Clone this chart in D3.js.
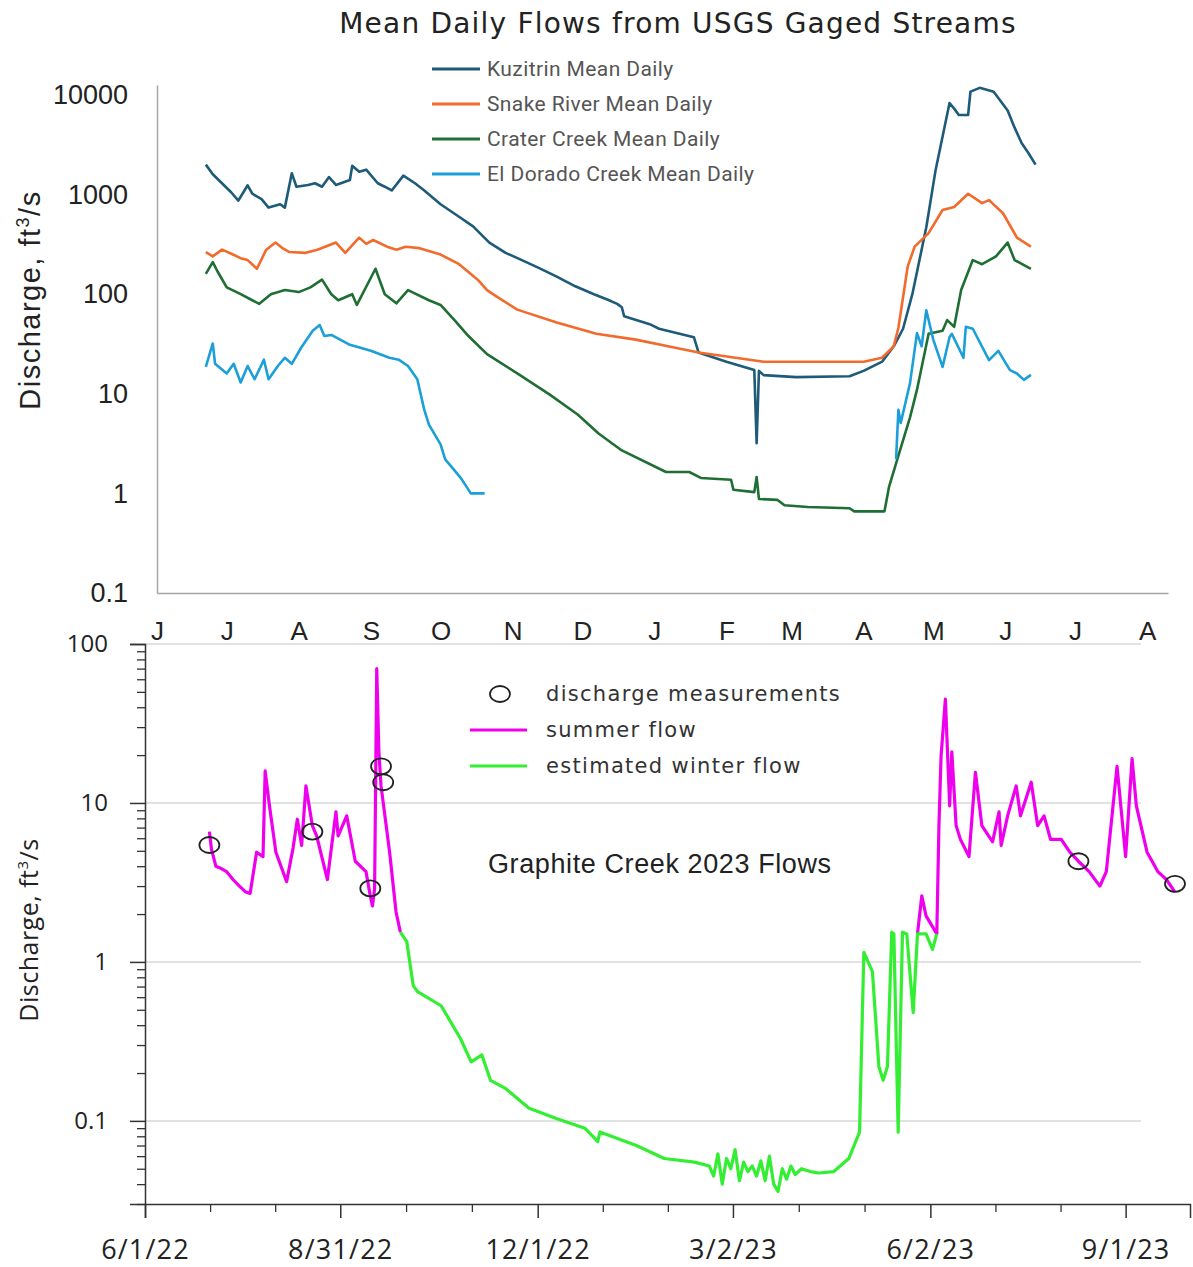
<!DOCTYPE html>
<html>
<head>
<meta charset="utf-8">
<script src="https://cdn.jsdelivr.net/npm/d3@7"></script>
<style>
  body { margin: 0; background: #fff; }
  svg { display: block; }
</style>
</head>
<body>
<div id="chart"></div>
<script>
var W = 1193, H = 1267;

// ---- top chart data (USGS mean daily, ft3/s) ----
var kuzitrin = [
  ["2022-06-22",2000],["2022-06-25",1600],["2022-07-03",1050],["2022-07-06",870],["2022-07-10",1240],
  ["2022-07-12",1020],["2022-07-16",900],["2022-07-19",740],["2022-07-24",800],["2022-07-26",740],
  ["2022-07-29",1640],["2022-07-31",1200],["2022-08-05",1250],["2022-08-08",1300],["2022-08-11",1200],
  ["2022-08-14",1500],["2022-08-17",1250],["2022-08-23",1400],["2022-08-24",1950],["2022-08-27",1700],
  ["2022-08-30",1780],["2022-09-04",1300],["2022-09-07",1200],["2022-09-10",1100],["2022-09-13",1350],
  ["2022-09-15",1550],["2022-09-20",1300],["2022-09-24",1100],["2022-10-01",800],["2022-10-08",620],
  ["2022-10-15",480],["2022-10-22",330],["2022-10-29",260],["2022-11-05",220],["2022-11-12",185],
  ["2022-11-20",150],["2022-11-28",120],["2022-12-06",100],["2022-12-12",88],["2022-12-16",80],
  ["2022-12-18",74],["2022-12-19",60],["2022-12-30",50],["2023-01-03",45],["2023-01-18",37],
  ["2023-01-20",26],["2023-02-01",21],["2023-02-13",17.3],["2023-02-14",3.2],["2023-02-15",17],
  ["2023-02-17",15.4],["2023-03-03",14.7],["2023-03-26",15],["2023-04-01",17],["2023-04-09",21],
  ["2023-04-14",30],["2023-04-18",45],["2023-04-22",100],["2023-04-28",470],["2023-05-02",1760],
  ["2023-05-08",8300],["2023-05-10",7300],["2023-05-12",6300],["2023-05-16",6300],["2023-05-17",10800],
  ["2023-05-21",11800],["2023-05-27",10800],["2023-06-02",7000],["2023-06-05",4700],["2023-06-08",3300],
  ["2023-06-11",2600],["2023-06-14",2000]
];
var snake = [
  ["2022-06-22",265],["2022-06-25",240],["2022-06-29",280],["2022-07-03",255],["2022-07-07",230],
  ["2022-07-10",220],["2022-07-14",180],["2022-07-18",280],["2022-07-22",330],["2022-07-25",290],
  ["2022-07-28",265],["2022-08-04",260],["2022-08-09",280],["2022-08-14",310],["2022-08-17",330],
  ["2022-08-21",260],["2022-08-27",370],["2022-08-30",320],["2022-09-02",350],["2022-09-08",300],
  ["2022-09-12",280],["2022-09-16",300],["2022-09-22",290],["2022-10-01",250],["2022-10-09",200],
  ["2022-10-17",140],["2022-10-21",110],["2022-10-25",95],["2022-11-03",70],["2022-11-20",52],
  ["2022-12-07",40],["2022-12-24",35],["2023-01-10",29],["2023-01-20",26],["2023-02-17",21],
  ["2023-04-01",21],["2023-04-09",23],["2023-04-14",30],["2023-04-16",46],["2023-04-20",190],
  ["2023-04-23",300],["2023-04-29",410],["2023-05-05",700],["2023-05-10",750],["2023-05-16",1020],
  ["2023-05-22",820],["2023-05-25",880],["2023-05-31",650],["2023-06-06",370],["2023-06-12",300]
];
var crater = [
  ["2022-06-22",160],["2022-06-25",210],["2022-06-27",170],["2022-07-01",117],["2022-07-07",100],
  ["2022-07-12",87],["2022-07-15",80],["2022-07-20",100],["2022-07-26",110],["2022-08-01",105],
  ["2022-08-06",117],["2022-08-11",140],["2022-08-15",100],["2022-08-18",87],["2022-08-24",100],
  ["2022-08-26",78],["2022-09-03",180],["2022-09-07",100],["2022-09-12",81],["2022-09-17",110],
  ["2022-09-26",87],["2022-10-01",78],["2022-10-07",55],["2022-10-13",38],["2022-10-21",25],
  ["2022-11-04",15.5],["2022-11-17",9.8],["2022-11-29",6.2],["2022-12-08",4.0],["2022-12-18",2.7],
  ["2023-01-06",1.64],["2023-01-16",1.64],["2023-01-21",1.43],["2023-02-03",1.37],["2023-02-04",1.09],
  ["2023-02-13",1.03],["2023-02-14",1.46],["2023-02-15",0.88],["2023-02-23",0.86],["2023-02-26",0.76],
  ["2023-03-08",0.73],["2023-03-26",0.71],["2023-03-28",0.66],["2023-04-10",0.66],["2023-04-12",1.17],
  ["2023-04-15",2.0],["2023-04-21",5.8],["2023-04-24",11],["2023-04-29",40],["2023-05-05",43],
  ["2023-05-07",55],["2023-05-10",47],["2023-05-13",110],["2023-05-18",220],["2023-05-22",200],
  ["2023-05-28",240],["2023-06-02",330],["2023-06-05",220],["2023-06-12",180]
];
var elDorado = [
  ["2022-06-22",18.6],["2022-06-25",32],["2022-06-26",20],["2022-07-01",16],["2022-07-04",20],
  ["2022-07-07",13],["2022-07-10",19],["2022-07-13",14],["2022-07-17",22],["2022-07-19",14],
  ["2022-07-23",19],["2022-07-26",23],["2022-07-29",20],["2022-08-02",29],["2022-08-07",43],
  ["2022-08-10",49],["2022-08-12",38],["2022-08-15",39],["2022-08-23",31],["2022-09-01",27],
  ["2022-09-09",23],["2022-09-13",22],["2022-09-17",19],["2022-09-21",14],["2022-09-24",6.9],
  ["2022-09-26",4.9],["2022-10-01",3.1],["2022-10-03",2.2],["2022-10-07",1.7],["2022-10-10",1.4],
  ["2022-10-14",1.0],["2022-10-20",1.0],["2022-10-21",null],
  ["2023-04-15",2.2],["2023-04-16",6.9],["2023-04-17",5.1],["2023-04-21",12.8],["2023-04-24",40.7],
  ["2023-04-26",30],["2023-04-28",69],["2023-05-01",35],["2023-05-05",18.6],["2023-05-08",37],
  ["2023-05-09",40],["2023-05-14",23],["2023-05-15",47],["2023-05-18",45],["2023-05-25",21.8],
  ["2023-05-29",27],["2023-06-03",17.3],["2023-06-06",16],["2023-06-09",13.8],["2023-06-12",15.5]
];
var topSeriesNames = ["Kuzitrin Mean Daily","Snake River Mean Daily","Crater Creek Mean Daily","El Dorado Creek Mean Daily"];
var topTicks = [0.1, 1, 10, 100, 1000, 10000];

// ---- bottom chart data (Graphite Creek, ft3/s) ----
var summer2022 = [
  ["2022-07-01",6.6],["2022-07-02",5.1],["2022-07-04",4.0],["2022-07-06",3.9],["2022-07-09",3.7],
  ["2022-07-12",3.3],["2022-07-15",3.0],["2022-07-18",2.75],["2022-07-20",2.7],["2022-07-23",4.9],
  ["2022-07-26",4.6],["2022-07-27",15.9],["2022-07-29",9.6],["2022-08-01",4.9],["2022-08-06",3.2],
  ["2022-08-09",5.2],["2022-08-11",7.9],["2022-08-13",5.4],["2022-08-15",12.8],["2022-08-18",7.2],
  ["2022-08-20",6.2],["2022-08-25",3.3],["2022-08-29",8.8],["2022-08-30",6.2],["2022-09-03",8.3],
  ["2022-09-07",4.3],["2022-09-12",3.7],["2022-09-14",2.6],["2022-09-15",2.25],["2022-09-16",2.9],
  ["2022-09-17",70],["2022-09-18",21],["2022-09-19",12.8],["2022-09-23",4.9],["2022-09-26",2.06],
  ["2022-09-28",1.54]
];
var winter = [
  ["2022-09-28",1.54],["2022-10-01",1.34],["2022-10-04",0.71],["2022-10-06",0.65],["2022-10-17",0.53],
  ["2022-10-26",0.33],["2022-10-31",0.235],["2022-11-05",0.26],["2022-11-09",0.18],["2022-11-16",0.16],
  ["2022-11-27",0.12],["2022-12-10",0.103],["2022-12-23",0.09],["2022-12-29",0.074],["2022-12-30",0.085],
  ["2023-01-16",0.07],["2023-01-29",0.058],["2023-02-12",0.055],["2023-02-19",0.052],["2023-02-21",0.045],
  ["2023-02-23",0.062],["2023-02-25",0.04],["2023-02-27",0.058],["2023-03-01",0.05],["2023-03-03",0.066],
  ["2023-03-05",0.042],["2023-03-07",0.055],["2023-03-09",0.048],["2023-03-11",0.052],["2023-03-13",0.045],
  ["2023-03-15",0.056],["2023-03-17",0.042],["2023-03-19",0.06],["2023-03-21",0.04],["2023-03-23",0.036],
  ["2023-03-25",0.05],["2023-03-27",0.043],["2023-03-29",0.052],["2023-03-31",0.046],["2023-04-03",0.05],
  ["2023-04-07",0.048],["2023-04-11",0.047],["2023-04-18",0.048],["2023-04-25",0.058],["2023-04-30",0.085],
  ["2023-05-02",1.15],["2023-05-06",0.87],["2023-05-09",0.22],["2023-05-11",0.18],["2023-05-13",0.22],
  ["2023-05-15",1.54],["2023-05-16",1.5],["2023-05-18",0.085],["2023-05-20",1.54],["2023-05-22",1.5],
  ["2023-05-25",0.48],["2023-05-27",1.5],["2023-05-31",1.5],["2023-06-03",1.2],["2023-06-05",1.5]
];
var summer2023 = [
  ["2023-05-27",1.5],["2023-05-29",2.6],["2023-05-31",1.95],["2023-06-05",1.5],["2023-06-06",7.2],
  ["2023-06-07",19.8],["2023-06-09",45],["2023-06-11",9.6],["2023-06-12",21],["2023-06-14",7.2],
  ["2023-06-16",5.9],["2023-06-20",4.6],["2023-06-23",15.6],["2023-06-26",7.2],["2023-07-01",5.7],
  ["2023-07-04",8.8],["2023-07-05",5.4],["2023-07-08",8.3],["2023-07-12",12.8],["2023-07-14",8.3],
  ["2023-07-19",13.5],["2023-07-22",7.2],["2023-07-25",8.3],["2023-07-28",5.9],["2023-08-02",5.9],
  ["2023-08-06",4.9],["2023-08-10",4.3],["2023-08-15",3.7],["2023-08-20",3.0],["2023-08-23",3.7],
  ["2023-08-28",17],["2023-09-01",4.6],["2023-09-04",19],["2023-09-06",9.6],["2023-09-11",4.9],
  ["2023-09-16",3.7],["2023-09-20",3.3],["2023-09-24",2.75]
];
var measurements = [
  ["2022-07-01",5.44],["2022-08-18",6.6],["2022-09-14",2.9],["2022-09-19",17],["2022-09-20",13.5],
  ["2023-08-10",4.3],["2023-09-24",3.1]
];
var bottomTicks = [0.1, 1, 10, 100];
var dateTicks = ["2022-06-01","2022-08-31","2022-12-01","2023-03-02","2023-06-02","2023-09-01"];
var bottomLegend = ["discharge measurements","summer flow","estimated winter flow"];

var parse = d3.timeParse("%Y-%m-%d");
var fmtTick = d3.timeFormat("%-m/%-d/%y");

var svg = d3.select("#chart").append("svg")
    .attr("width", W).attr("height", H);

//////////////////
// TOP CHART   //
//////////////////
var colors = ["#1d5b79", "#f26a2c", "#1f6e34", "#1c9fd8"];
var topData = [kuzitrin, snake, crater, elDorado];

var xTop = d3.scaleTime()
    .domain([parse("2022-06-01"), parse("2023-08-10")])
    .range([157, 1168]);
var yTop = d3.scaleLog()
    .domain([0.1, 12600])
    .range([593, 85]);

svg.append("text")
    .attr("x", 678).attr("y", 33)
    .attr("text-anchor", "middle")
    .style("font-family", "DejaVu Sans, sans-serif")
    .style("font-size", "28px")
    .style("letter-spacing", "1.2px")
    .style("fill", "#222")
    .text("Mean Daily Flows from USGS Gaged Streams");

var yAxT = svg.append("g")
    .attr("transform", "translate(157,0)")
    .call(d3.axisLeft(yTop).tickValues(topTicks).tickSize(0).tickPadding(29)
        .tickFormat(function(d) { return d < 1 ? "0.1" : d3.format("d")(d); }));
yAxT.select(".domain").attr("stroke", "#a6a6a6").attr("stroke-width", 1.5);
yAxT.selectAll("text")
    .style("font-family", "Liberation Sans, Arial, sans-serif")
    .style("font-size", "27px").style("fill", "#222");

var xAxT = svg.append("g")
    .attr("transform", "translate(0,593)")
    .call(d3.axisBottom(xTop)
        .tickValues(d3.timeMonth.range(parse("2022-06-01"), parse("2023-08-02")))
        .tickSize(0).tickPadding(29)
        .tickFormat(function(d) { return d3.timeFormat("%B")(d).charAt(0); }));
xAxT.select(".domain").attr("stroke", "#a6a6a6").attr("stroke-width", 1.5);
xAxT.selectAll("text")
    .style("font-family", "Liberation Sans, Arial, sans-serif")
    .style("font-size", "26px").style("fill", "#222");

var lineTop = d3.line()
    .defined(function(d) { return d[1] != null; })
    .x(function(d) { return xTop(parse(d[0])); })
    .y(function(d) { return yTop(d[1]); });

topData.forEach(function(s, i) {
  svg.append("path")
     .datum(s)
     .attr("fill", "none")
     .attr("stroke", colors[i])
     .attr("stroke-width", 2.6)
     .attr("stroke-linejoin", "round")
     .attr("d", lineTop);
});

// top legend
var lg = svg.append("g").attr("transform", "translate(432,69)");
topSeriesNames.forEach(function(n, i) {
  var yy = i * 35;
  lg.append("line").attr("x1", 0).attr("x2", 48).attr("y1", yy).attr("y2", yy)
    .attr("stroke", colors[i]).attr("stroke-width", 3);
  lg.append("text").attr("x", 55).attr("y", yy + 7)
    .style("font-family", "Roboto, sans-serif").style("font-size", "21px")
    .style("letter-spacing", "0.4px")
    .style("fill", "#555").text(n);
});

// top y label
var t1 = svg.append("text")
    .attr("transform", "translate(40,300) rotate(-90)")
    .attr("text-anchor", "middle")
    .style("font-family", "Liberation Sans, Arial, sans-serif")
    .style("font-size", "29px").style("letter-spacing", "1.5px").style("fill", "#222");
t1.append("tspan").text("Discharge, ft");
t1.append("tspan").attr("dy", -11).style("font-size", "18px").text("3");
t1.append("tspan").attr("dy", 11).text("/s");

//////////////////
// BOTTOM CHART //
//////////////////
var xBot = d3.scaleTime()
    .domain([parse("2022-06-01"), parse("2023-10-01")])
    .range([145, 1190]);
var yBot = d3.scaleLog()
    .domain([0.03, 100])
    .range([1204, 644]);

// gridlines
svg.append("g").selectAll("line")
   .data(bottomTicks).enter().append("line")
   .attr("x1", 145).attr("x2", 1141)
   .attr("y1", function(d) { return yBot(d); })
   .attr("y2", function(d) { return yBot(d); })
   .attr("stroke", "#d9d9d9").attr("stroke-width", 1.5);

// minor y ticks
var minorY = [];
[0.01, 0.1, 1, 10].forEach(function(dec) {
  for (var k = 2; k <= 9; k++) {
    var v = dec * k;
    if (v >= 0.03 && v < 100) minorY.push(v);
  }
});
var yMinor = svg.append("g").attr("transform", "translate(145,0)")
    .call(d3.axisLeft(yBot).tickValues(minorY).tickSize(8).tickFormat(""));
yMinor.select(".domain").remove();
yMinor.selectAll("line").attr("stroke", "#333").attr("stroke-width", 1.3);

var yAxB = svg.append("g").attr("transform", "translate(145,0)")
    .call(d3.axisLeft(yBot).tickValues(bottomTicks).tickSize(15).tickPadding(22)
        .tickFormat(function(d) { return d < 1 ? "0.1" : d3.format("d")(d); }));
yAxB.select(".domain").attr("stroke", "#333").attr("stroke-width", 1.5);
yAxB.selectAll("line").attr("stroke", "#333").attr("stroke-width", 1.5);
yAxB.selectAll("text")
    .style("font-family", "Open Sans, sans-serif")
    .style("font-size", "24px").style("fill", "#222");

// x axis, minor ticks at thirds between the major dates
var majors = dateTicks.map(parse);
var minorX = [];
for (var i = 0; i < majors.length - 1; i++) {
  var a = +majors[i], b = +majors[i + 1];
  minorX.push(new Date(a + (b - a) / 3), new Date(a + 2 * (b - a) / 3));
}
var xMinor = svg.append("g").attr("transform", "translate(0,1204)")
    .call(d3.axisBottom(xBot).tickValues(minorX).tickSize(8).tickFormat(""));
xMinor.select(".domain").remove();
xMinor.selectAll("line").attr("stroke", "#333").attr("stroke-width", 1.3);

var xAxB = svg.append("g").attr("transform", "translate(0,1204)")
    .call(d3.axisBottom(xBot).tickValues(majors).tickSize(14).tickPadding(22)
        .tickFormat(fmtTick));
xAxB.select(".domain").attr("stroke", "#333").attr("stroke-width", 1.5);
xAxB.selectAll("line").attr("stroke", "#333").attr("stroke-width", 1.5);
xAxB.selectAll("text")
    .style("font-family", "Open Sans, sans-serif")
    .style("font-size", "27px").style("letter-spacing", "1.2px").style("fill", "#222");

var lineBot = d3.line()
    .x(function(d) { return xBot(parse(d[0])); })
    .y(function(d) { return yBot(d[1]); });

svg.append("path").datum(summer2022)
   .attr("fill", "none").attr("stroke", "#ee00ee").attr("stroke-width", 3.2)
   .attr("stroke-linejoin", "round").attr("d", lineBot);
svg.append("path").datum(summer2023)
   .attr("fill", "none").attr("stroke", "#ee00ee").attr("stroke-width", 3.2)
   .attr("stroke-linejoin", "round").attr("d", lineBot);
svg.append("path").datum(winter)
   .attr("fill", "none").attr("stroke", "#33ee33").attr("stroke-width", 3.2)
   .attr("stroke-linejoin", "round").attr("d", lineBot);

svg.append("g").selectAll("ellipse")
   .data(measurements).enter().append("ellipse")
   .attr("cx", function(d) { return xBot(parse(d[0])); })
   .attr("cy", function(d) { return yBot(d[1]); })
   .attr("rx", 10).attr("ry", 8)
   .attr("fill", "none").attr("stroke", "#222").attr("stroke-width", 1.8);

// bottom legend
var bl = svg.append("g");
bl.append("ellipse").attr("cx", 500).attr("cy", 694).attr("rx", 10).attr("ry", 8)
  .attr("fill", "none").attr("stroke", "#222").attr("stroke-width", 1.8);
bl.append("line").attr("x1", 470).attr("x2", 527).attr("y1", 730).attr("y2", 730)
  .attr("stroke", "#ee00ee").attr("stroke-width", 3);
bl.append("line").attr("x1", 470).attr("x2", 527).attr("y1", 766).attr("y2", 766)
  .attr("stroke", "#33ee33").attr("stroke-width", 3);
bottomLegend.forEach(function(n, i) {
  bl.append("text").attr("x", 546).attr("y", 694 + i * 36 + 7)
    .style("font-family", "DejaVu Sans, sans-serif").style("font-size", "21px")
    .style("letter-spacing", "1.3px")
    .style("fill", "#333").text(n);
});

svg.append("text").attr("x", 488).attr("y", 873)
   .style("font-family", "Liberation Sans, Arial, sans-serif").style("font-size", "27px")
   .style("letter-spacing", "0.6px")
   .style("fill", "#222").text("Graphite Creek 2023 Flows");

var t2 = svg.append("text")
    .attr("transform", "translate(38,930) rotate(-90)")
    .attr("text-anchor", "middle")
    .style("font-family", "Open Sans, sans-serif")
    .style("font-size", "25px").style("letter-spacing", "0.5px").style("fill", "#222");
t2.append("tspan").text("Discharge, ft");
t2.append("tspan").attr("dy", -10).style("font-size", "15px").text("3");
t2.append("tspan").attr("dy", 10).text("/s");
</script>
</body>
</html>
